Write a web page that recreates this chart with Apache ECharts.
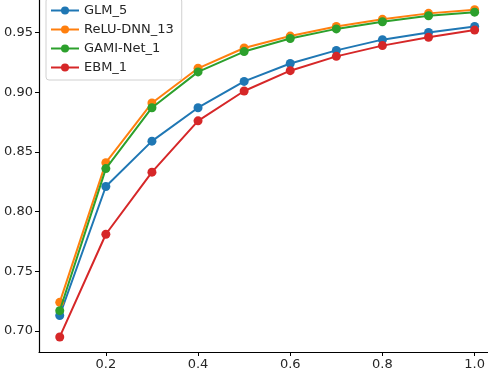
<!DOCTYPE html>
<html>
<head>
<meta charset="utf-8">
<script src="https://cdn.jsdelivr.net/npm/echarts@6/dist/echarts.min.js"></script>
<style>
  html, body { margin: 0; padding: 0; background: #fff; }
  #chart { width: 488px; height: 376px; }
</style>
</head>
<body>
<div id="chart"></div>
<script>
// data
var xs = [0.1, 0.2, 0.3, 0.4, 0.5, 0.6, 0.7, 0.8, 0.9, 1.0];
var glm = [0.713, 0.821, 0.859, 0.887, 0.909, 0.924, 0.935, 0.944, 0.950, 0.955];
var relu = [0.724, 0.841, 0.891, 0.920, 0.937, 0.947, 0.955, 0.961, 0.966, 0.969];
var gami = [0.717, 0.836, 0.887, 0.917, 0.934, 0.945, 0.953, 0.959, 0.964, 0.967];
var ebm = [0.695, 0.781, 0.833, 0.876, 0.901, 0.918, 0.930, 0.939, 0.946, 0.952];
var names = ['GLM_5', 'ReLU-DNN_13', 'GAMI-Net_1', 'EBM_1'];
var colors = ['#1f77b4', '#ff7f0e', '#2ca02c', '#d62728'];
var xTicks = [0.2, 0.4, 0.6, 0.8, 1.0];
var yTicks = [0.70, 0.75, 0.80, 0.85, 0.90, 0.95];

function pairs(ys) {
    return xs.map(function (x, i) { return [x, ys[i]]; });
}

var font = 'DejaVu Sans';
var chart = echarts.init(document.getElementById('chart'));

var series = [glm, relu, gami, ebm].map(function (ys, i) {
    return {
        name: names[i],
        type: 'line',
        data: pairs(ys),
        symbol: 'circle',
        symbolSize: 9,
        lineStyle: { width: 2, color: colors[i] },
        itemStyle: { color: colors[i] },
        z: 2 + i,
        animation: false
    };
});

chart.setOption({
    animation: false,
    color: colors,
    // the picture is cropped at the top and right, so the axes run to the edge
    grid: { left: 39, right: 0, top: 0, bottom: 24 },
    legend: {
        orient: 'vertical',
        left: 46,
        top: -2,
        data: names,
        itemWidth: 28,
        itemHeight: 10,
        itemGap: 6,
        padding: [6, 8, 6, 4],
        backgroundColor: 'rgba(255,255,255,0.8)',
        borderColor: '#d0d0d0',
        borderWidth: 1,
        borderRadius: 3,
        textStyle: { fontFamily: font, fontSize: 13, color: '#262626' }
    },
    xAxis: {
        type: 'value',
        min: 0.055,
        max: 1.029,
        splitLine: { show: false },
        axisLine: { show: true, onZero: false, lineStyle: { color: '#000', width: 1.2 } },
        axisTick: { show: true, length: 4, customValues: xTicks, lineStyle: { color: '#000' } },
        axisLabel: {
            customValues: xTicks,
            margin: 6,
            fontFamily: font,
            fontSize: 13,
            color: '#262626',
            formatter: function (v) { return v.toFixed(1); }
        }
    },
    yAxis: {
        type: 'value',
        min: 0.6824,
        max: 0.9772,
        splitLine: { show: false },
        axisLine: { show: true, onZero: false, lineStyle: { color: '#000', width: 1.2 } },
        axisTick: { show: true, length: 4, customValues: yTicks, lineStyle: { color: '#000' } },
        axisLabel: {
            customValues: yTicks,
            margin: 6,
            fontFamily: font,
            fontSize: 13,
            color: '#262626',
            formatter: function (v) { return v.toFixed(2); }
        }
    },
    series: series
});
</script>
</body>
</html>
